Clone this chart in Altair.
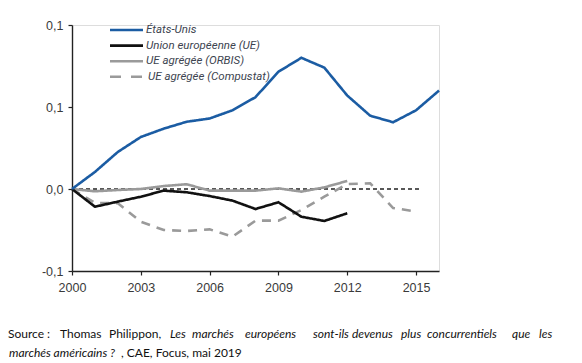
import altair as alt
import pandas as pd

years = list(range(2000, 2017))
us = [0.0, 0.0104, 0.0226, 0.0317, 0.0368, 0.041, 0.043, 0.048, 0.056, 0.0715,
      0.080, 0.074, 0.057, 0.0447, 0.0407, 0.048, 0.060]
eu = [0.0, -0.0108, -0.0077, -0.0047, -0.001, -0.002, -0.0043, -0.0071, -0.0122,
      -0.0081, -0.0169, -0.0195, -0.0148]
orbis = [0.0, -0.0014, -0.0006, 0.0, 0.0018, 0.0029, -0.001, -0.001, -0.001,
         0.0004, -0.0016, 0.001, 0.0049]
compustat = [0.0, -0.0085, -0.0087, -0.020, -0.025, -0.0256, -0.0246, -0.029,
             -0.0193, -0.0193, -0.0128, -0.0047, 0.003, 0.0035, -0.0116, -0.0137]

names = ["États-Unis", "Union européenne (UE)", "UE agrégée (ORBIS)", "UE agrégée (Compustat)"]
series = [us, eu, orbis, compustat]
colors = ["#1b5ca3", "#111111", "#9a9a9a", "#9a9a9a"]
dashes = [[1, 0], [1, 0], [1, 0], [9, 7]]

ref_x = [2000, 2015.2]
ref_y = [0.0, 0.0]

xticks = [2000, 2003, 2006, 2009, 2012, 2015]
yticks = [-0.05, 0.0, 0.05, 0.1]

rows = []
for n, vals in zip(names, series):
    for y, v in zip(years, vals):
        rows.append({"year": y, "value": v, "serie": n})
df = pd.DataFrame(rows)
ref = pd.DataFrame({"year": ref_x, "value": ref_y})

W, H = 367, 246

xscale = alt.Scale(domain=[2000, 2016], nice=False, zero=False)
yscale = alt.Scale(domain=[-0.05, 0.1], nice=False, zero=False)

axis_common = dict(grid=False, domainColor="#222222", domainWidth=1.4, tickColor="#222222",
                   tickSize=4, tickWidth=1.2, labelFont="Liberation Sans", labelFontSize=12.5,
                   labelColor="#3a3a3a", labelFlush=False, labelOverlap=False, title=None)

x_enc = alt.X("year:Q", scale=xscale,
              axis=alt.Axis(values=xticks, format="d", labelPadding=6, **axis_common))
y_enc = alt.Y("value:Q", scale=yscale,
              axis=alt.Axis(values=yticks, labelPadding=5,
                            labelExpr="datum.value == 0 ? '0,0' : (datum.value < 0 ? '-0,1' : '0,1')",
                            **axis_common))

refline = alt.Chart(ref).mark_line(color="#222222", strokeWidth=1.4, strokeDash=[4, 3]).encode(
    x=x_enc, y=y_enc)

layers = [refline]
for n, c, d in list(zip(names, colors, dashes))[::-1]:
    layers.append(
        alt.Chart(df[df.serie == n]).mark_line(strokeWidth=2.6, color=c, strokeDash=d).encode(
            x=alt.X("year:Q", scale=xscale), y=alt.Y("value:Q", scale=yscale),
            order=alt.Order("year:Q"))
    )

# legend (manual)
leg_y0 = 5
leg_dy = 15.6
for i, (n, c, d) in enumerate(zip(names, colors, dashes)):
    yy = leg_y0 + i * leg_dy
    layers.append(
        alt.Chart(pd.DataFrame({"a": [0]})).mark_rule(color=c, strokeWidth=2.6,
                                                      strokeDash=[11, 10] if d != [1, 0] else [1, 0]).encode(
            x=alt.value(38), x2=alt.value(71), y=alt.value(yy))
    )
    layers.append(
        alt.Chart(pd.DataFrame({"t": [n]})).mark_text(
            align="left", baseline="middle", font="Roboto", fontSize=11.5, fontStyle="italic",
            color="#3d4450").encode(
            x=alt.value(74 if i < 3 else 76), y=alt.value(yy), text="t:N")
    )

# source caption
line1 = [("Source :", 8, False), ("Thomas", 60, False), ("Philippon,", 109, False),
         ("Les", 170, True), ("marchés", 192, True), ("européens", 245, True),
         ("sont-ils", 313, True), ("devenus", 352, True), ("plus", 401, True),
         ("concurrentiels", 427, True), ("que", 512, True), ("les", 539, True)]
line2 = [("marchés américains ?", 9, True), (", CAE, Focus, mai 2019", 121, False)]
for txt, px, it in line1:
    layers.append(
        alt.Chart(pd.DataFrame({"t": [txt]})).mark_text(
            align="left", baseline="middle", font="Lato", fontSize=12,
            fontStyle="italic" if it else "normal", color="#111111").encode(
            x=alt.value(px - 72), y=alt.value(334 - 25), text="t:N")
    )
for txt, px, it in line2:
    layers.append(
        alt.Chart(pd.DataFrame({"t": [txt]})).mark_text(
            align="left", baseline="middle", font="Lato", fontSize=12,
            fontStyle="italic" if it else "normal", color="#111111").encode(
            x=alt.value(px - 72), y=alt.value(353 - 25), text="t:N")
    )

chart = alt.layer(*layers).properties(
    width=W, height=H,
    autosize=alt.AutoSizeParams(type="none"),
    padding={"left": 64, "top": 17, "right": 120, "bottom": 92},
).configure_view(stroke=None).configure(background="white")

chart.save("out.html", embed_options={"renderer": "svg", "actions": False})
